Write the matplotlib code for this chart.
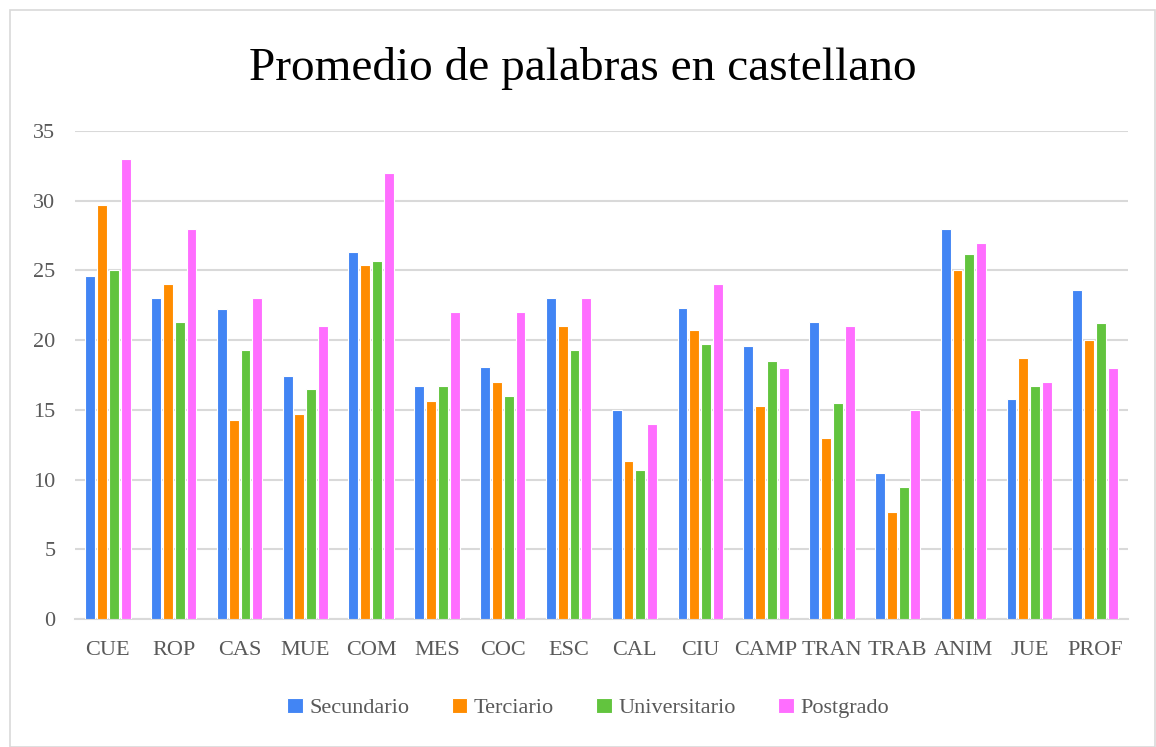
import matplotlib
matplotlib.use("Agg")
import matplotlib.pyplot as plt
import numpy as np
from matplotlib.patches import Rectangle

categories = ["CUE", "ROP", "CAS", "MUE", "COM", "MES", "COC", "ESC", "CAL", "CIU",
              "CAMP", "TRAN", "TRAB", "ANIM", "JUE", "PROF"]
series_names = ["Secundario", "Terciario", "Universitario", "Postgrado"]
secundario = [24.6, 23.0, 22.2, 17.4, 26.3, 16.7, 18.1, 23.0, 15.0, 22.3, 19.6, 21.3, 10.5, 28.0, 15.8, 23.6]
terciario = [29.7, 24.0, 14.3, 14.7, 25.4, 15.6, 17.0, 21.0, 11.3, 20.7, 15.3, 13.0, 7.7, 25.0, 18.7, 20.0]
universitario = [25.0, 21.3, 19.3, 16.5, 25.7, 16.7, 16.0, 19.3, 10.7, 19.7, 18.5, 15.5, 9.5, 26.2, 16.7, 21.2]
postgrado = [33.0, 28.0, 23.0, 21.0, 32.0, 22.0, 22.0, 23.0, 14.0, 24.0, 18.0, 21.0, 15.0, 27.0, 17.0, 18.0]
colors = ["#4285F4", "#FF8C00", "#62C43E", "#FF6EFF"]
yticks = [0, 5, 10, 15, 20, 25, 30, 35]

fig = plt.figure(figsize=(11.56, 7.47), dpi=100)
W, H = 1156, 747
ax = fig.add_axes([75 / W, 1 - 619 / H, (1128 - 75) / W, (619 - 131) / H])

x = np.arange(len(categories))
data = [secundario, terciario, universitario, postgrado]
step = 0.18
bw = 0.15
for i, (vals, c, name) in enumerate(zip(data, colors, series_names)):
    ax.bar(x + (i - 1.5) * step, vals, width=bw, color=c, edgecolor="white",
           linewidth=0.8, label=name, zorder=3)

ax.set_xlim(-0.5, len(categories) - 0.5)
ax.set_ylim(0, 35)
ax.set_yticks(yticks)
ax.yaxis.grid(True, color="#d9d9d9", linewidth=1.5, zorder=0)
ax.set_axisbelow(True)
for s in ["top", "right", "left"]:
    ax.spines[s].set_visible(False)
ax.spines["bottom"].set_color("#d9d9d9")
ax.spines["bottom"].set_linewidth(1.5)
ax.tick_params(axis="both", length=0, labelsize=16, labelcolor="#595959")
ax.tick_params(axis="y", pad=14)
ax.tick_params(axis="x", pad=16)
ax.set_xticks(x)
ax.set_xticklabels(categories)
for lab in ax.get_xticklabels() + ax.get_yticklabels():
    lab.set_fontfamily("Liberation Serif")

fig.text(583 / W, 1 - 68 / H, "Promedio de palabras en castellano", ha="center", va="center",
         fontsize=34, family="Liberation Serif", color="black")

leg = fig.legend(loc="center", bbox_to_anchor=(588 / W, 1 - 708 / H), ncol=4, frameon=False,
                 prop={"family": "Liberation Serif", "size": 16}, handlelength=0.7,
                 handleheight=0.7, handletextpad=0.3, columnspacing=1.9)
for t in leg.get_texts():
    t.set_color("#595959")

fig.patches.append(Rectangle((10 / W, 0), (1155 - 10) / W, 1 - 10 / H, transform=fig.transFigure,
                             fill=False, edgecolor="#d9d9d9", linewidth=1.2))

fig.savefig("out.png", dpi=100)
